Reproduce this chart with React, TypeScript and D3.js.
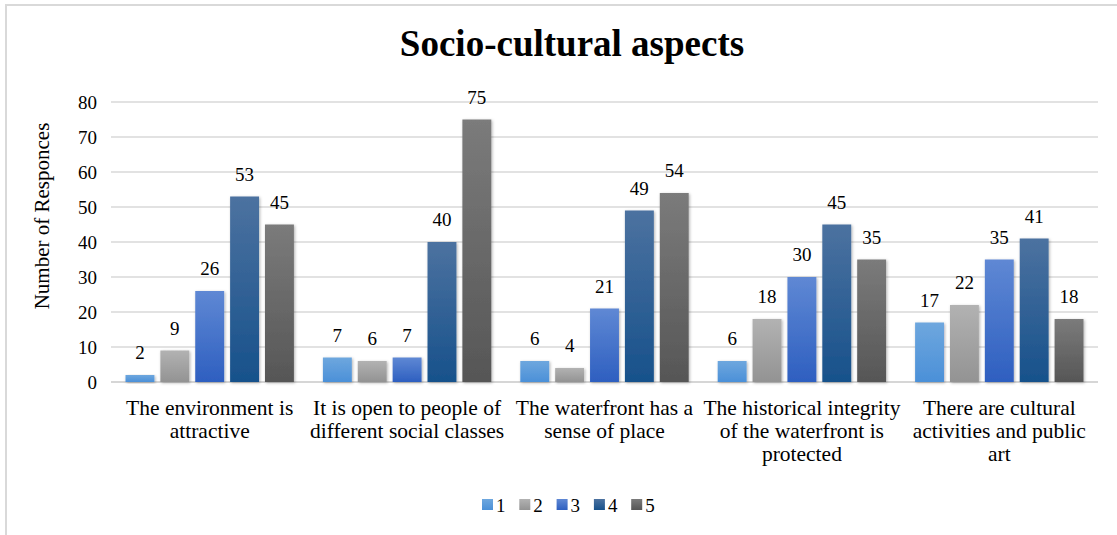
import React from "react";
import * as d3 from "d3";

const categories: string[][] = [
  ["The environment is", "attractive"],
  ["It is open to people of", "different social classes"],
  ["The waterfront has a", "sense of place"],
  ["The historical integrity", "of the waterfront is", "protected"],
  ["There are cultural", "activities and public", "art"],
];
const seriesNames = ["1", "2", "3", "4", "5"];
const series1 = [2, 7, 6, 6, 17];
const series2 = [9, 6, 4, 18, 22];
const series3 = [26, 7, 21, 30, 35];
const series4 = [53, 40, 49, 45, 41];
const series5 = [45, 75, 54, 35, 18];
const yTicks = [0, 10, 20, 30, 40, 50, 60, 70, 80];
const title = "Socio-cultural aspects";
const yTitle = "Number of Responces";

const allSeries = [series1, series2, series3, series4, series5];
const gradients = [
  ["#6ea7de", "#4b90d8"],
  ["#b2b2b2", "#939393"],
  ["#5f88d4", "#2e5fc0"],
  ["#4c72a0", "#17518b"],
  ["#7b7b7b", "#565656"],
];

const W = 1117;
const H = 535;
const plotLeft = 111;
const plotRight = 1098;
const plotTop = 102;
const plotBottom = 382;
const font = "'Liberation Serif', 'Times New Roman', serif";

export default function App() {
  const x = d3
    .scaleBand<number>()
    .domain(d3.range(categories.length))
    .range([plotLeft, plotRight])
    .padding(0);
  const inner = d3
    .scaleBand<number>()
    .domain(d3.range(seriesNames.length))
    .range([14.5, x.bandwidth() - 14.5])
    .paddingInner(0.171)
    .paddingOuter(0);
  const y = d3.scaleLinear().domain([0, 80]).range([plotBottom, plotTop]);

  return (
    <div style={{ position: "absolute", left: 0, top: 0 }}>
      <svg width={W} height={H} style={{ display: "block", background: "#fff" }}>
        <defs>
          {gradients.map((g, i) => (
            <linearGradient key={i} id={`grad${i}`} x1="0" y1="0" x2="0" y2="1">
              <stop offset="0" stopColor={g[0]} />
              <stop offset="1" stopColor={g[1]} />
            </linearGradient>
          ))}
          <filter id="shadow" x="-30%" y="-10%" width="160%" height="130%">
            <feDropShadow dx="1" dy="1" stdDeviation="1.6" floodColor="#000" floodOpacity="0.3" />
          </filter>
        </defs>
        <rect x={6} y={5} width={1130} height={560} fill="none" stroke="#d9d9d9" strokeWidth={2} />
        <text
          x={572}
          y={56}
          textAnchor="middle"
          fontFamily={font}
          fontWeight="bold"
          fontSize={37}
          fill="#000"
        >
          {title}
        </text>
        {yTicks.map((t) => (
          <g key={t}>
            <line
              x1={plotLeft}
              x2={plotRight}
              y1={y(t)}
              y2={y(t)}
              stroke={t === 0 ? "#c8c8c8" : "#d9d9d9"}
              strokeWidth={1.5}
            />
            <text
              x={97}
              y={y(t)}
              dy="0.35em"
              textAnchor="end"
              fontFamily={font}
              fontSize={19}
              fill="#000"
            >
              {t}
            </text>
          </g>
        ))}
        <text
          transform={`translate(49,216) rotate(-90)`}
          textAnchor="middle"
          fontFamily={font}
          fontSize={21}
          fill="#000"
        >
          {yTitle}
        </text>
        {allSeries.map((s, si) => (
          <g key={si}>
            {s.map((v, ci) => {
              const bx = (x(ci) as number) + (inner(si) as number);
              const by = y(v);
              return (
                <g key={ci}>
                  <rect
                    x={bx}
                    y={by}
                    width={inner.bandwidth()}
                    height={plotBottom - by}
                    fill={`url(#grad${si})`}
                    filter="url(#shadow)"
                  />
                  <text
                    x={bx + inner.bandwidth() / 2}
                    y={by - 16}
                    textAnchor="middle"
                    fontFamily={font}
                    fontSize={19}
                    fill="#000"
                  >
                    {v}
                  </text>
                </g>
              );
            })}
          </g>
        ))}
        {categories.map((lines, ci) => (
          <text
            key={ci}
            x={(x(ci) as number) + x.bandwidth() / 2}
            y={415}
            textAnchor="middle"
            fontFamily={font}
            fontSize={21.5}
            fill="#000"
          >
            {lines.map((l, li) => (
              <tspan key={li} x={(x(ci) as number) + x.bandwidth() / 2} dy={li === 0 ? 0 : 23}>
                {l}
              </tspan>
            ))}
          </text>
        ))}
        {seriesNames.map((n, i) => {
          const lx = 482 + i * 37.3;
          return (
            <g key={n}>
              <rect x={lx} y={499} width={11} height={11} fill={`url(#grad${i})`} />
              <text x={lx + 14} y={512} fontFamily={font} fontSize={19} fill="#000">
                {n}
              </text>
            </g>
          );
        })}
      </svg>
    </div>
  );
}
